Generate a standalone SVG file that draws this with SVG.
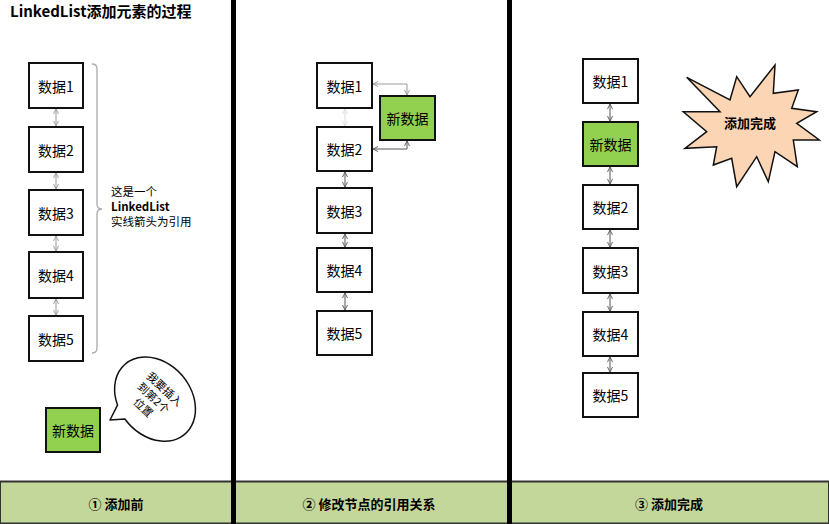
<svg xmlns="http://www.w3.org/2000/svg" width="829" height="524" viewBox="0 0 829 524">
<defs>
<marker id="ahg" viewBox="0 0 6 6" refX="5.5" refY="3" markerWidth="6" markerHeight="6" markerUnits="userSpaceOnUse" orient="auto-start-reverse">
<path d="M0.5,0.5 L5.5,3 L0.5,5.5" fill="none" stroke="#999" stroke-width="0.9"/>
</marker>
<marker id="ahd" viewBox="0 0 6 6" refX="5.5" refY="3" markerWidth="6" markerHeight="6" markerUnits="userSpaceOnUse" orient="auto-start-reverse">
<path d="M0.5,0.5 L5.5,3 L0.5,5.5" fill="none" stroke="#555" stroke-width="0.9"/>
</marker>
<marker id="ahl" viewBox="0 0 6 6" refX="5.5" refY="3" markerWidth="6" markerHeight="6" markerUnits="userSpaceOnUse" orient="auto-start-reverse">
<path d="M0.5,0.5 L5.5,3 L0.5,5.5" fill="none" stroke="#ddd" stroke-width="0.9"/>
</marker>
</defs>
<style>
.t{font-family:"Noto Sans CJK SC","Liberation Sans",sans-serif;fill:#000}
.box{fill:#fff;stroke:#111;stroke-width:2}
.nbox{fill:#92D050;stroke:#111;stroke-width:2}
.bt{font-size:14px;text-anchor:middle;dominant-baseline:central}
.c1{fill:none;stroke:#999;stroke-width:1;marker-start:url(#ahg);marker-end:url(#ahg)}
.c2{fill:none;stroke:#555;stroke-width:1;marker-start:url(#ahd);marker-end:url(#ahd)}
.cl{fill:none;stroke:#ddd;stroke-width:1;marker-start:url(#ahl);marker-end:url(#ahl)}
.lab{font-size:13px;font-weight:bold;text-anchor:middle;dominant-baseline:central}
</style>
<rect width="829" height="524" fill="#fff"/>

<!-- bottom bar -->
<g id="bar">
<rect x="0" y="481.5" width="829" height="42" fill="#C4D79B" stroke="#333" stroke-width="2"/>
<text class="t lab" x="116" y="503">① 添加前</text>
<text class="t lab" x="369" y="503">② 修改节点的引用关系</text>
<text class="t lab" x="669" y="503">③ 添加完成</text>
</g>

<!-- dividers -->
<g id="dividers" fill="#000">
<rect x="231" y="0" width="5" height="524"/>
<rect x="507" y="0" width="5" height="524"/>
</g>

<text id="title" class="t" x="10" y="17" font-size="15" font-weight="bold">LinkedList添加元素的过程</text>

<!-- connectors -->
<g id="connectors">
<line class="c1" x1="56" y1="109" x2="56" y2="126"/>
<line class="c1" x1="56" y1="173" x2="56" y2="189"/>
<line class="c1" x1="56" y1="236" x2="56" y2="251"/>
<line class="c1" x1="56" y1="299" x2="56" y2="315"/>
<path d="M92,64 Q97,64 97,69 L97,204 Q97,209 102,209 M97,214 Q97,209 102,209 M97,214 L97,348 Q97,353 92,353" fill="none" stroke="#aaa" stroke-width="1.3"/>

<line class="cl" x1="345" y1="109" x2="345" y2="126"/>
<line class="c2" x1="345" y1="172" x2="345" y2="187"/>
<line class="c2" x1="345" y1="234" x2="345" y2="247"/>
<line class="c2" x1="345" y1="293" x2="345" y2="310"/>
<path class="c1" d="M373,84 L407,84 L407,95"/>
<path class="c2" d="M373,149 L407,149 L407,141"/>

<line class="c2" x1="610" y1="104" x2="610" y2="121"/>
<line class="c2" x1="610" y1="167" x2="610" y2="184"/>
<line class="c2" x1="610" y1="230" x2="610" y2="247"/>
<line class="c2" x1="610" y1="294" x2="610" y2="311"/>
<line class="c2" x1="610" y1="357" x2="610" y2="372"/>
</g>

<!-- panel 1 -->
<g id="p1-n1"><rect class="box" x="29" y="63" width="54" height="45"/><text class="t bt" x="56" y="85.5">数据1</text></g>
<g id="p1-n2"><rect class="box" x="29" y="127" width="54" height="45"/><text class="t bt" x="56" y="149.5">数据2</text></g>
<g id="p1-n3"><rect class="box" x="29" y="190" width="54" height="45"/><text class="t bt" x="56" y="212.5">数据3</text></g>
<g id="p1-n4"><rect class="box" x="29" y="252" width="54" height="46"/><text class="t bt" x="56" y="275">数据4</text></g>
<g id="p1-n5"><rect class="box" x="29" y="316" width="54" height="45"/><text class="t bt" x="56" y="338.5">数据5</text></g>
<g id="p1-new"><rect class="nbox" x="46" y="408" width="54" height="44"/><text class="t bt" x="73" y="430">新数据</text></g>

<g id="p1-note" class="t" font-size="11.5">
<text x="111" y="196">这是一个</text>
<text x="111" y="211" font-weight="bold">LinkedList</text>
<text x="111" y="226">实线箭头为引用</text>
</g>

<g id="bubble">
<path d="M124.9,419 A46,36 50 1 0 117.5,405.1 L110,420 Z" fill="#fff" stroke="#111" stroke-width="1.5" stroke-linejoin="round"/>
<g transform="translate(153.5,398) rotate(43)" class="t" font-size="11" text-anchor="middle">
<text x="2" y="-10">我要插入</text>
<text x="0" y="4">到第2个</text>
<text x="-1" y="18">位置</text>
</g>
</g>

<!-- panel 2 -->
<g id="p2-n1"><rect class="box" x="317" y="63" width="55" height="45"/><text class="t bt" x="344.5" y="85.5">数据1</text></g>
<g id="p2-n2"><rect class="box" x="317" y="127" width="55" height="44"/><text class="t bt" x="344.5" y="149">数据2</text></g>
<g id="p2-n3"><rect class="box" x="317" y="188" width="55" height="45"/><text class="t bt" x="344.5" y="210.5">数据3</text></g>
<g id="p2-n4"><rect class="box" x="317" y="248" width="55" height="44"/><text class="t bt" x="344.5" y="270">数据4</text></g>
<g id="p2-n5"><rect class="box" x="317" y="311" width="55" height="44"/><text class="t bt" x="344.5" y="333">数据5</text></g>
<g id="p2-new"><rect class="nbox" x="380" y="96" width="55" height="44"/><text class="t bt" x="407.5" y="118">新数据</text></g>

<!-- panel 3 -->
<g id="p3-n1"><rect class="box" x="583" y="59" width="55" height="44"/><text class="t bt" x="610.5" y="81">数据1</text></g>
<g id="p3-new"><rect class="nbox" x="583" y="122" width="55" height="44"/><text class="t bt" x="610.5" y="144">新数据</text></g>
<g id="p3-n2"><rect class="box" x="583" y="185" width="55" height="44"/><text class="t bt" x="610.5" y="207">数据2</text></g>
<g id="p3-n3"><rect class="box" x="583" y="248" width="55" height="45"/><text class="t bt" x="610.5" y="270.5">数据3</text></g>
<g id="p3-n4"><rect class="box" x="583" y="312" width="55" height="44"/><text class="t bt" x="610.5" y="334">数据4</text></g>
<g id="p3-n5"><rect class="box" x="583" y="373" width="55" height="44"/><text class="t bt" x="610.5" y="395">数据5</text></g>

<g id="star">
<polygon points="686.7,77.3 730,100 736.7,76.7 750,96.7 775,65 773.3,93.3 798.3,90 791.7,108.3 816.7,111.7 796.7,123.3 819.3,140 793.3,140 797.3,166.7 775,151.7 768.3,181.7 756.7,156.7 736.7,186.7 731.7,158.3 713.3,165 716.7,146.7 685,148.3 706.7,131.7 683.3,111.7 720,111.7" fill="#FCD5B4" stroke="#111" stroke-width="1.5" stroke-linejoin="miter"/>
<text class="t lab" x="750" y="122">添加完成</text>
</g>
</svg>
